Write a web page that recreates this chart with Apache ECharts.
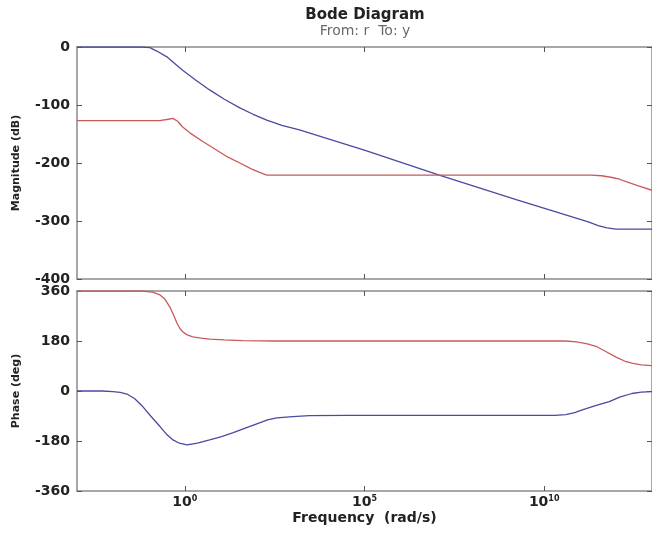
<!DOCTYPE html>
<html>
<head>
<meta charset="utf-8">
<script src="https://cdn.jsdelivr.net/npm/echarts@6/dist/echarts.min.js"></script>
<style>
html,body{margin:0;padding:0;background:#fff;}
#chart{width:652px;height:541px;}
</style>
</head>
<body>
<div id="chart"></div>
<script>
// Frequencies are given as log10(rad/s)
const magBlueLogW = [-3, -1.2, -0.97, -0.78, -0.5, -0.25, -0.06, 0.3, 0.69, 1.1, 1.53, 1.9, 2.28, 2.7, 3.19, 5.06, 7.08, 9.22, 11.25, 11.5, 11.75, 12.0, 13];
const magBlueDb   = [0, 0, -1, -7, -17, -30, -40, -57, -74, -90, -105, -116, -126, -135, -143, -179, -221, -263, -302, -308, -312, -314, -314];

const magRedLogW = [-3, -0.7, -0.5, -0.33, -0.2, -0.06, 0.14, 0.5, 0.89, 1.2, 1.53, 1.85, 2.08, 2.28, 11.3, 11.6, 11.89, 12.1, 12.28, 12.6, 13];
const magRedDb   = [-127, -127, -125, -123, -128, -138, -148, -163, -178, -190, -200, -210, -216, -221, -221, -222, -225, -228, -232, -239, -247];

const phaseRedLogW = [-3, -1.2, -0.9, -0.69, -0.55, -0.42, -0.3, -0.22, -0.14, -0.06, 0.05, 0.22, 0.45, 0.69, 1.1, 1.61, 2.5, 10.6, 10.9, 11.2, 11.44, 11.7, 12.0, 12.25, 12.44, 12.7, 13];
const phaseRedDeg  = [360, 360, 356, 346, 330, 303, 270, 245, 226, 213, 203, 195, 190, 187, 184, 181, 180, 180, 177, 170, 161, 143, 122, 107, 100, 94, 91];

const phaseBlueLogW = [-3, -2.3, -2.0, -1.8, -1.61, -1.4, -1.17, -0.95, -0.69, -0.5, -0.33, -0.15, 0.06, 0.35, 0.69, 1.0, 1.33, 1.7, 2.08, 2.3, 2.56, 3.0, 3.47, 4.5, 10.3, 10.6, 10.85, 11.06, 11.45, 11.81, 12.1, 12.44, 12.7, 13];
const phaseBlueDeg  = [0, 0, -2, -5, -11, -27, -56, -90, -128, -157, -176, -188, -194, -188, -176, -165, -151, -133, -115, -104, -97, -92, -89, -88, -88, -85, -78, -68, -52, -38, -22, -9, -4, -2];

const freqTickExps = [0, 5, 10];
const magTicks = [0, -100, -200, -300, -400];
const phaseTicks = [360, 180, 0, -180, -360];

const titleText = 'Bode Diagram';
const subTitleText = 'From: r  To: y';

const FONT = 'DejaVu Sans';
const AXC = '#8a8a8a';
const BLUE = '#4a4aa0';
const RED = '#c85a5a';

function pairs(xs, ys) { return xs.map((x, i) => [x, ys[i]]); }

const chart = echarts.init(document.getElementById('chart'), null, {renderer: 'canvas'});

const xBase = (gridIndex, position, showLabel, name) => ({
  type: 'value', gridIndex, position, min: -3, max: 13,
  axisLine: {show: true, onZero: false, lineStyle: {color: AXC, width: 1.5}},
  axisTick: {show: true, inside: true, length: 5, customValues: freqTickExps, lineStyle: {color: '#555', width: 1}},
  axisLabel: showLabel ? {
    show: true, customValues: freqTickExps, margin: 4,
    formatter: v => '{b|10}{s|' + v + '}',
    rich: {
      b: {fontFamily: FONT, fontWeight: 'bold', fontSize: 14, color: '#222', lineHeight: 14, verticalAlign: 'bottom'},
      s: {fontFamily: FONT, fontWeight: 'bold', fontSize: 8, color: '#222', lineHeight: 8, verticalAlign: 'top'}
    }
  } : {show: false},
  splitLine: {show: false},
  name: name || '', nameLocation: 'middle', nameGap: 20,
  nameTextStyle: {fontFamily: FONT, fontWeight: 'bold', fontSize: 14, color: '#222'}
});

const yBase = (gridIndex, position, min, max, interval, showLabel, name) => ({
  type: 'value', gridIndex, position, min, max, interval,
  axisLine: {show: true, onZero: false, lineStyle: {color: AXC, width: 1.5}},
  axisTick: {show: true, inside: true, length: 5, lineStyle: {color: '#555', width: 1}},
  axisLabel: showLabel ? {show: true, margin: 7, fontFamily: FONT, fontWeight: 'bold', fontSize: 14, color: '#222'} : {show: false},
  splitLine: {show: false},
  name: name || '', nameLocation: 'middle', nameGap: 55, nameRotate: 90,
  nameTextStyle: {fontFamily: FONT, fontWeight: 'bold', fontSize: 11, color: '#222'}
});

const option = {
  animation: false,
  backgroundColor: '#fff',
  grid: [
    {left: 77, top: 47, width: 576, height: 232},
    {left: 77, top: 291, width: 576, height: 200}
  ],
  xAxis: [
    xBase(0, 'bottom', false),
    xBase(0, 'top', false),
    xBase(1, 'bottom', true, 'Frequency  (rad/s)'),
    xBase(1, 'top', false)
  ],
  yAxis: [
    yBase(0, 'left', magTicks[4], magTicks[0], 100, true, 'Magnitude (dB)'),
    yBase(0, 'right', magTicks[4], magTicks[0], 100, false),
    yBase(1, 'left', phaseTicks[4], phaseTicks[0], 180, true, 'Phase (deg)'),
    yBase(1, 'right', phaseTicks[4], phaseTicks[0], 180, false)
  ],
  graphic: [
    {type: 'text', x: 365, y: 15, style: {text: titleText, fontFamily: FONT, fontWeight: 'bold', fontSize: 15, fill: '#222', align: 'center', verticalAlign: 'middle'}},
    {type: 'text', x: 365, y: 31, style: {text: subTitleText, fontFamily: FONT, fontSize: 14, fill: '#6a6a6a', align: 'center', verticalAlign: 'middle'}}
  ],
  series: [
    {type: 'line', xAxisIndex: 0, yAxisIndex: 0, data: pairs(magBlueLogW, magBlueDb), showSymbol: false, lineStyle: {color: BLUE, width: 1.3}},
    {type: 'line', xAxisIndex: 0, yAxisIndex: 0, data: pairs(magRedLogW, magRedDb), showSymbol: false, lineStyle: {color: RED, width: 1.3}},
    {type: 'line', xAxisIndex: 2, yAxisIndex: 2, data: pairs(phaseRedLogW, phaseRedDeg), showSymbol: false, lineStyle: {color: RED, width: 1.3}},
    {type: 'line', xAxisIndex: 2, yAxisIndex: 2, data: pairs(phaseBlueLogW, phaseBlueDeg), showSymbol: false, lineStyle: {color: BLUE, width: 1.3}}
  ]
};
chart.setOption(option);
</script>
</body>
</html>
